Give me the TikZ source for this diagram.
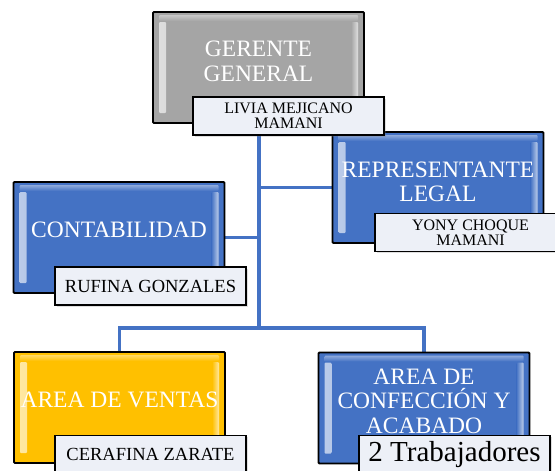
\documentclass[tikz,border=0pt]{standalone}
\usepackage{fontspec}
\setmainfont{Liberation Serif}
\usetikzlibrary{shadows,backgrounds}
\definecolor{boxblue}{HTML}{4472C4}
\definecolor{boxgray}{HTML}{A5A5A5}
\definecolor{boxgold}{HTML}{FFC000}
\definecolor{lblfill}{HTML}{EDF0F7}
\definecolor{linecol}{HTML}{4472C4}
\tikzset{
  unitbox/.style={draw=black, line width=1.8pt, fill=#1, minimum width=211pt,
    minimum height=111pt, inner sep=0pt, rounded corners=1pt,
    path picture={
      \shade[left color=#1!35!white, right color=#1]
        ([xshift=6pt,yshift=-10pt]path picture bounding box.north west) rectangle
        ([xshift=13pt,yshift=10pt]path picture bounding box.south west);
      \shade[left color=#1, right color=#1!35!white]
        ([xshift=-13pt,yshift=-10pt]path picture bounding box.north east) rectangle
        ([xshift=-6pt,yshift=10pt]path picture bounding box.south east);
      \shade[top color=#1!60!white, bottom color=#1]
        ([xshift=6pt,yshift=-3pt]path picture bounding box.north west) rectangle
        ([xshift=-6pt,yshift=-9pt]path picture bounding box.north east);
    }},
  title/.style={text=white, align=center, inner sep=0pt,
    font=\fontsize{23.5}{24.5}\selectfont},
  lbl/.style={draw=black, line width=1.5pt, fill=lblfill, minimum width=191pt,
    minimum height=38pt, inner sep=0pt, align=center,
    drop shadow={opacity=0.25, shadow xshift=1.5pt, shadow yshift=-1.5pt}},
  smalllbl/.style={font=\fontsize{16}{15}\selectfont},
  midlbl/.style={font=\fontsize{18.5}{20}\selectfont},
  biglbl/.style={font=\fontsize{29}{32}\selectfont},
  conn/.style={draw=linecol, line width=3.3pt},
}
\begin{document}
\begin{tikzpicture}[x=1pt, y=-1pt]
\useasboundingbox (0,0) rectangle (555,471);
\clip (0,0) rectangle (555,471);

% junction of the trunk
\coordinate (j) at (259,328);

% boxes
\node[unitbox=boxgray] (gg) at (258.5,67.5) {};
\node[unitbox=boxblue] (rep) at (438,187.5) {};
\node[unitbox=boxblue] (cont) at (119,237.5) {};
\node[unitbox=boxgold] (ventas) at (119.5,407.5) {};
\node[unitbox=boxblue] (conf) at (424,408) {};

% connectors (behind the boxes)
\begin{scope}[on background layer]
\draw[conn] (gg.south -| j) -- (j);
\draw[conn] (rep.west) -- (rep.west -| j);
\draw[conn] (cont.east) -- (cont.east -| j);
\draw[conn] (ventas.north) |- (j) -| (conf.north);
\end{scope}

% titles
\node[title] (ggt) at (258.5,61.5) {GERENTE\\GENERAL};
\node[title] (rept) at (438,182) {REPRESENTANTE\\LEGAL};
\node[title] (contt) at (119,230) {CONTABILIDAD};
\node[title] (ventast) at (119.5,400) {AREA DE VENTAS};
\node[title] (conft) at (424,401) {AREA DE\\CONFECCIÓN Y\\ACABADO};

% labels
\node[lbl, smalllbl] (ggl) at (288.5,116) {LIVIA MEJICANO\\MAMANI};
\node[lbl, smalllbl] (repl) at (470.5,232.5) {YONY CHOQUE\\MAMANI};
\node[lbl, midlbl] (contl) at (150.5,286) {RUFINA GONZALES};
\node[lbl, midlbl] (ventasl) at (150.5,454.5) {CERAFINA ZARATE};
\node[lbl, biglbl] (confl) at (454.5,454.5) {2 Trabajadores};
\end{tikzpicture}
\end{document}
